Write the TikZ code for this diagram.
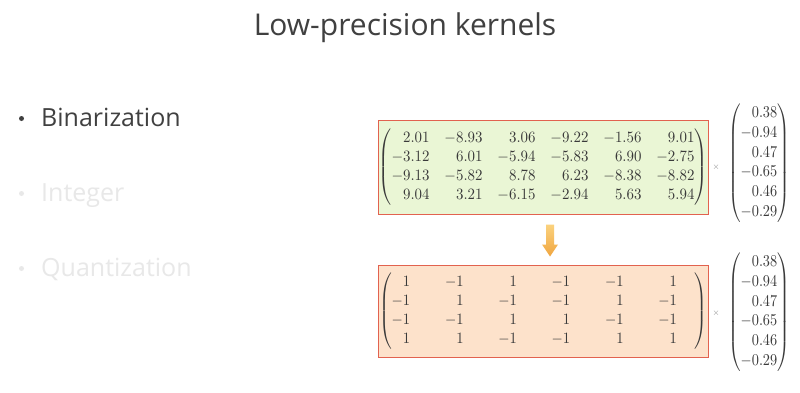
\documentclass[tikz,border=0pt]{standalone}
\usepackage[no-math]{fontspec}
\setmainfont{Open Sans}
\usetikzlibrary{calc}
\definecolor{titlegray}{HTML}{404040}
\definecolor{fadegray}{HTML}{E8E8E8}
\definecolor{boxred}{HTML}{E2624F}
\definecolor{greenfill}{HTML}{EAF6D5}
\definecolor{peachfill}{HTML}{FDE2CB}
\definecolor{mattext}{HTML}{3A3A3A}
\definecolor{arrtop}{HTML}{FBD27E}
\definecolor{arrbot}{HTML}{F0A640}
\begin{document}
\begin{tikzpicture}[x=1pt,y=-1pt,
  bodytext/.style={anchor=base west, font=\fontsize{25}{30}\selectfont, inner sep=0pt},
  bulletdot/.style={circle, inner sep=0pt, minimum size=5pt},
  matbox/.style={draw=boxred, line width=1pt, inner sep=0pt, minimum width=330pt},
  mat/.style={text=mattext, inner sep=0pt},
  timesign/.style={text=gray, inner sep=0pt, scale=0.9}
]
\useasboundingbox (0,0) rectangle (800,392);
\fill[white] (0,0) rectangle (800,392);

\node[font=\fontsize{30}{36}\selectfont, text=titlegray] (title) at (405,28) {Low-precision kernels};

\node[bulletdot, fill=titlegray] (d1) at (21.5,118.5) {};
\node[bodytext, text=titlegray] (b1) at (41,126) {Binarization};
\node[bulletdot, fill=fadegray] (d2) at (21.5,193.5) {};
\node[bodytext, text=fadegray] (b2) at (41,201) {Integer};
\node[bulletdot, fill=fadegray] (d3) at (21.5,268.5) {};
\node[bodytext, text=fadegray] (b3) at (41,276) {Quantization};

\node[matbox, fill=greenfill, minimum height=94pt] (topbox) at (543,167) {};
\node[mat, xscale=1.49, yscale=1.58] (topmat) at (topbox.center)
{$\left(\begin{array}{@{}rrrrrr@{}}
2.01 & -8.93 & 3.06 & -9.22 & -1.56 & 9.01\\
-3.12 & 6.01 & -5.94 & -5.83 & 6.90 & -2.75\\
-9.13 & -5.82 & 8.78 & 6.23 & -8.38 & -8.82\\
9.04 & 3.21 & -6.15 & -2.94 & 5.63 & 5.94
\end{array}\right)$};

\node[matbox, fill=peachfill, minimum height=92pt] (botbox) at (543,311) {};
\node[mat, xscale=1.45, yscale=1.58] (botmat) at (botbox.center)
{\arraycolsep=12pt $\left(\begin{array}{@{}rrrrrr@{\hspace{12pt}}}
1 & -1 & 1 & -1 & -1 & 1\\
-1 & 1 & -1 & -1 & 1 & -1\\
-1 & -1 & 1 & 1 & -1 & -1\\
1 & 1 & -1 & -1 & 1 & 1
\end{array}\right)$};

\node[timesign] (x1) at (716,167) {$\times$};
\node[mat, xscale=1.43, yscale=1.65] (vec1) at (759,163)
{$\left(\begin{array}{@{}r@{}}0.38\\-0.94\\0.47\\-0.65\\0.46\\-0.29\end{array}\right)$};

\node[timesign] (x2) at (716,313) {$\times$};
\node[mat, xscale=1.43, yscale=1.65] (vec2) at (759,312)
{$\left(\begin{array}{@{}r@{}}0.38\\-0.94\\0.47\\-0.65\\0.46\\-0.29\end{array}\right)$};

\coordinate (a0) at ($(topbox.south)+(7,10)$);
\shade[top color=arrtop, bottom color=arrbot]
  ($(a0)+(-4,0)$) -- ($(a0)+(4,0)$) -- ($(a0)+(4,20)$) -- ($(a0)+(8,20)$)
  -- ($(a0)+(0,32)$) -- ($(a0)+(-8,20)$) -- ($(a0)+(-4,20)$) -- cycle;
\end{tikzpicture}
\end{document}
